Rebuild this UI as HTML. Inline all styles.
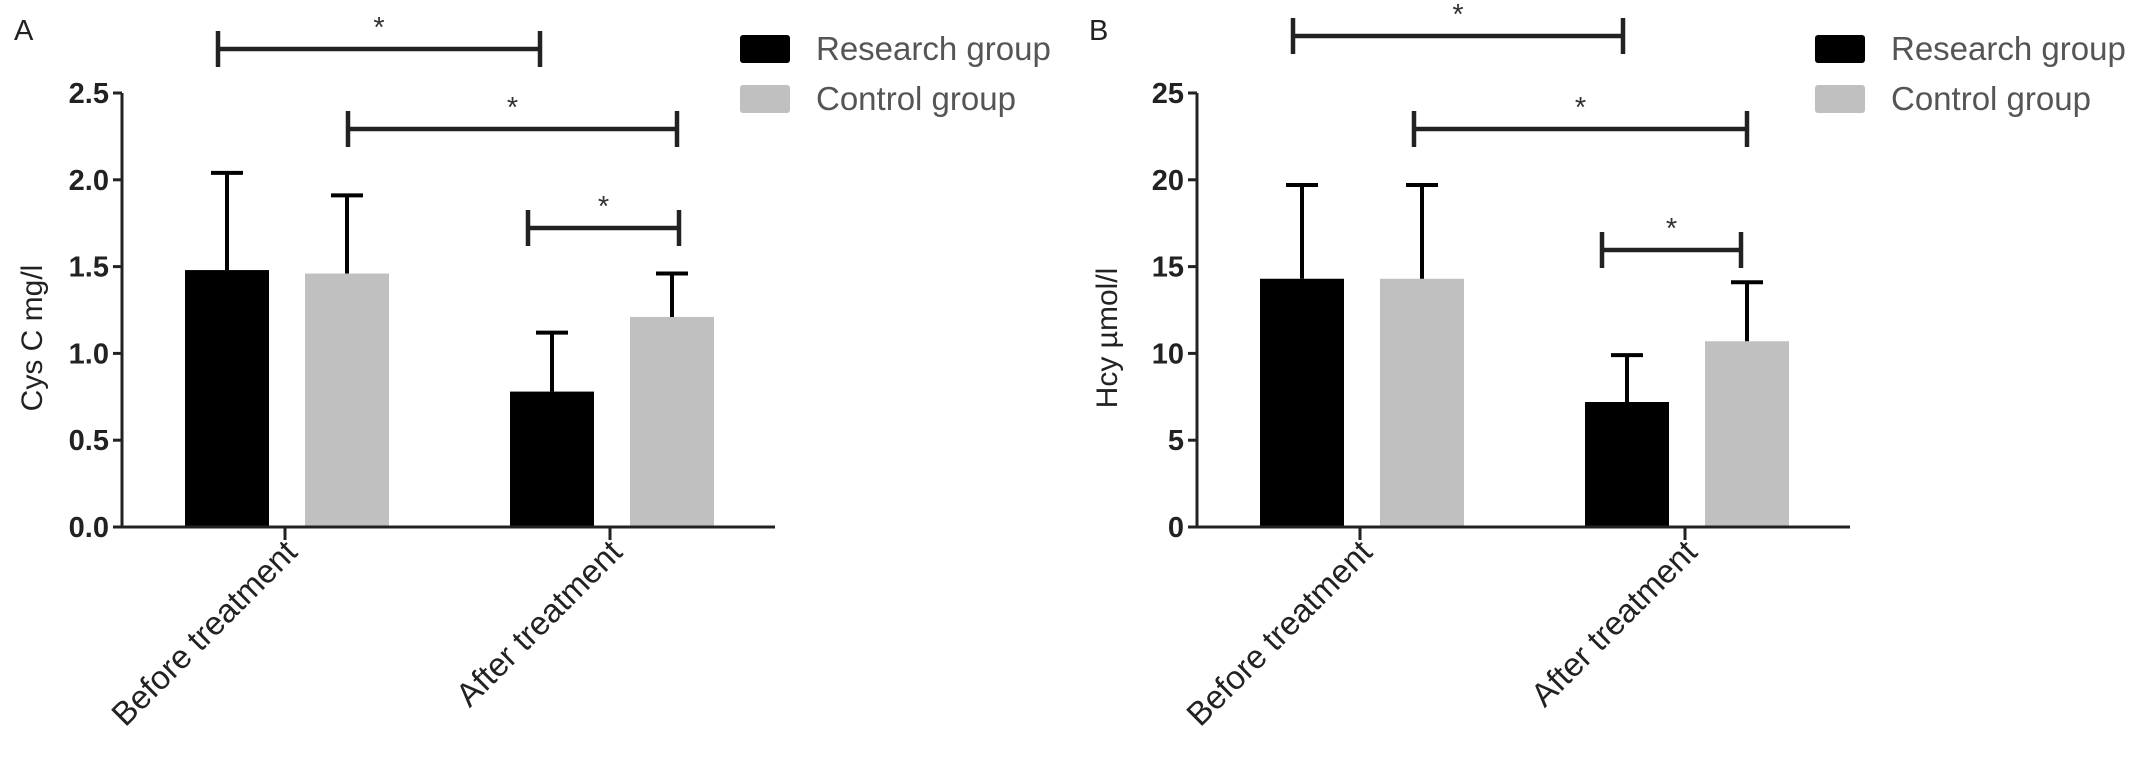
<!DOCTYPE html>
<html><head><meta charset="utf-8"><style>
html,body{margin:0;padding:0;background:#fff;}
svg{display:block;font-family:"Liberation Sans",sans-serif;}
</style></head><body>
<svg id="chart" width="2150" height="765" viewBox="0 0 2150 765" xmlns="http://www.w3.org/2000/svg"></svg>
<script>
const categories = ["Before treatment", "After treatment"];
const seriesNames = ["Research group", "Control group"];
const cysResearch = [1.48, 0.78];
const cysResearchErr = [0.56, 0.34];
const cysControl = [1.46, 1.21];
const cysControlErr = [0.45, 0.25];
const cysTicks = ["0.0","0.5","1.0","1.5","2.0","2.5"];
const hcyResearch = [14.3, 7.2];
const hcyResearchErr = [5.4, 2.7];
const hcyControl = [14.3, 10.7];
const hcyControlErr = [5.4, 3.4];
const hcyTicks = ["0","5","10","15","20","25"];

const NS = "http://www.w3.org/2000/svg";
const svg = document.getElementById("chart");
function mk(tag, attrs, parent, text){
  const e = document.createElementNS(NS, tag);
  for (const k in attrs) e.setAttribute(k, attrs[k]);
  if (text !== undefined) e.textContent = text;
  (parent||svg).appendChild(e);
  return e;
}

function panel(ox, letter, ytitle, ticks, vals, errs, brackets, pname){
  const g = mk("g", {});
  
  
  const x0 = ox + 122, x1 = ox + 775, yB = 527, yT = 93;
  const tmax = parseFloat(ticks[ticks.length-1]);
  const y = v => yB - (v / tmax) * (yB - yT);
  const catX = [ox + 285, ox + 610];
  const off = [-58, 62], bw = 84;
  const fills = ["#000", "#c0c0c0"];

  const L = mk("text", {x: ox+14, y: 40, "font-size": 29, fill: "#222"}, g, letter);
  
  

  for (let s = 0; s < 2; s++) {
    for (let c = 0; c < categories.length; c++) {
      const cx = catX[c] + off[s];
      const top = y(vals[s][c]);
      const r = mk("rect", {x: cx - bw/2, y: top, width: bw, height: yB - top, fill: fills[s]}, g);
      
      
      const et = y(vals[s][c] + errs[s][c]);
      const eb = mk("path", {d: `M${cx} ${top} V${et} M${cx-16} ${et} H${cx+16}`, stroke: "#000", "stroke-width": 4, fill: "none"}, g);
      
      
    }
  }
  const ax = mk("path", {d: `M${x0} ${yT} V${yB} H${x1}`, stroke: "#222", "stroke-width": 3, fill: "none"}, g);
  
  
  ticks.forEach(t => {
    const ty = y(parseFloat(t));
    mk("line", {x1: x0 - 9, x2: x0, y1: ty, y2: ty, stroke: "#222", "stroke-width": 3}, g);
    const tl = mk("text", {x: x0 - 13, y: ty + 10, "font-size": 29, "font-weight": "bold", fill: "#222", "text-anchor": "end"}, g, t);
    
    
  });
  categories.forEach((c, i) => {
    mk("line", {x1: catX[i], x2: catX[i], y1: yB, y2: yB + 13, stroke: "#222", "stroke-width": 3}, g);
    const tl = mk("text", {x: 0, y: 0, "font-size": 33, fill: "#222", "text-anchor": "end",
      transform: `translate(${catX[i]+14},${yB + 27}) rotate(-45)`}, g, c);
    
    
  });
  const yt = mk("text", {x: 0, y: 0, "font-size": 30, fill: "#222", "text-anchor": "middle",
    transform: `translate(${ox+42},338) rotate(-90)`}, g, ytitle);
  
  

  brackets.forEach(b => {
    const p = mk("path", {d: `M${ox+b[0]} ${b[2]-18} V${b[2]+18} M${ox+b[0]} ${b[2]} H${ox+b[1]} M${ox+b[1]} ${b[2]-18} V${b[2]+18}`,
      stroke: "#222", "stroke-width": 4.5, fill: "none"}, g);
    
    
    const st = mk("text", {x: ox + (b[0]+b[1])/2, y: b[2] - 12, "font-size": 29, fill: "#333", "text-anchor": "middle"}, g, "*");
    
    
  });

  seriesNames.forEach((n, i) => {
    const ly = 35 + i * 50;
    const lr = mk("rect", {x: ox + 740, y: ly, width: 50, height: 28, rx: 3, fill: fills[i]}, g);
    
    
    const lt = mk("text", {x: ox + 816, y: ly + 25, "font-size": 33, fill: "#555"}, g, n);
    
    
  });
}

panel(0, "A", "Cys C mg/l", cysTicks, [cysResearch, cysControl], [cysResearchErr, cysControlErr],
  [[218, 540, 49], [348, 677, 129], [528, 679, 228]], "panel-a-cys-c");
panel(1075, "B", "Hcy \u00b5mol/l", hcyTicks, [hcyResearch, hcyControl], [hcyResearchErr, hcyControlErr],
  [[218, 548, 36], [339, 672, 129], [527, 666, 250]], "panel-b-hcy");
</script>
</body></html>
